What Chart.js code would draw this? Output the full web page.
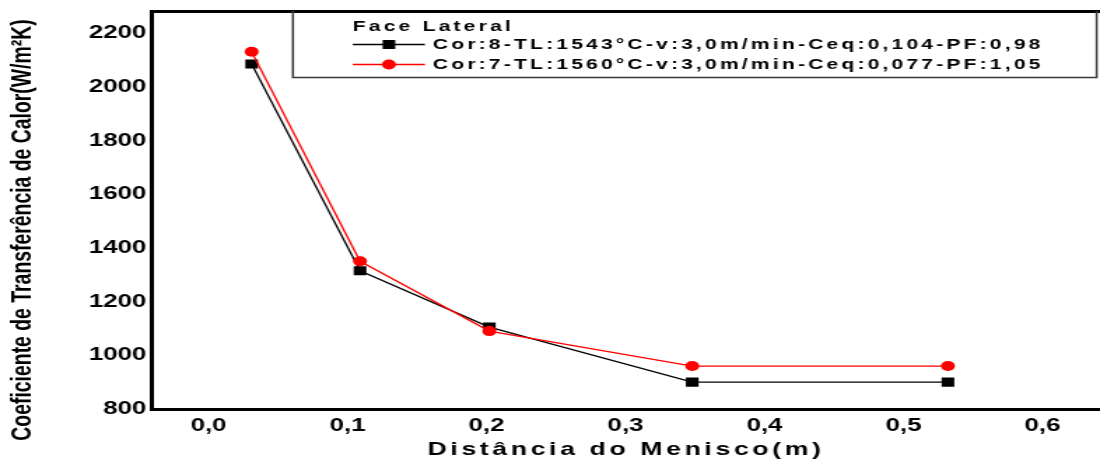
<!DOCTYPE html>
<html>
<head>
<meta charset="utf-8">
<script src="https://cdn.jsdelivr.net/npm/chart.js@4"></script>
<style>
  html, body { margin: 0; padding: 0; background: #fff; overflow: hidden; }
  #wrap { width: 1100px; height: 470px; overflow: hidden; }
  /* the plot is laid out on a narrower canvas and widened horizontally */
  #c { display: block; transform: scaleX(1.3995); transform-origin: 0 0; }
</style>
</head>
<body>
<div id="wrap"><canvas id="c" width="786" height="470" style="width:786px;height:470px"></canvas></div>
<script>
// Distance from the meniscus (m)
const distances = [0.031, 0.109, 0.202, 0.348, 0.532];
// Heat transfer coefficient, lateral face (W/m²K)
const coefCor8 = [2085, 1315, 1105, 900, 900];
const coefCor7 = [2130, 1350, 1090, 960, 960];

const seriesLabels = [
  'Cor:8-TL:1543°C-v:3,0m/min-Ceq:0,104-PF:0,98',
  'Cor:7-TL:1560°C-v:3,0m/min-Ceq:0,077-PF:1,05'
];
const legendTitle = 'Face Lateral';

const xTickValues = [0, 0.1, 0.2, 0.3, 0.4, 0.5, 0.6];
const xTickLabels = ['0,0', '0,1', '0,2', '0,3', '0,4', '0,5', '0,6'];
const yTickValues = [800, 1000, 1200, 1400, 1600, 1800, 2000, 2200];
const yTickLabels = ['800', '1000', '1200', '1400', '1600', '1800', '2000', '2200'];

const FONT = '"Liberation Sans", Arial, sans-serif';

const toPoints = (xs, ys) => xs.map((x, i) => ({ x, y: ys[i] }));

// Boxed legend with a line-and-marker sample per series
const boxedLegend = {
  id: 'boxedLegend',
  afterDraw(chart) {
    const ctx = chart.ctx;
    const top = chart.chartArea.top;
    const L = 209.3, R = 783.6, B = 77.5;
    ctx.save();
    ctx.strokeStyle = '#3a3a3a';
    ctx.lineWidth = 1.5;
    ctx.beginPath();
    ctx.moveTo(L, top);
    ctx.lineTo(L, B);
    ctx.lineTo(R, B);
    ctx.lineTo(R, top);
    ctx.stroke();

    ctx.fillStyle = '#000';
    ctx.textBaseline = 'middle';
    ctx.textAlign = 'left';
    ctx.font = 'bold 15px ' + FONT;
    ctx.letterSpacing = '2.3px';
    ctx.fillText(legendTitle, 252.1, 27);

    chart.data.datasets.forEach((ds, i) => {
      const y = 44.5 + i * 20;
      ctx.strokeStyle = ds.borderColor;
      ctx.lineWidth = ds.borderWidth;
      ctx.beginPath();
      ctx.moveTo(252.1, y);
      ctx.lineTo(303.6, y);
      ctx.stroke();
      ctx.fillStyle = ds.pointBackgroundColor;
      Chart.helpers.drawPoint(ctx, {
        pointStyle: ds.pointStyle, radius: ds.pointRadius, rotation: 0, borderWidth: 0
      }, 277.9, y);
      ctx.fillStyle = '#000';
      ctx.fillText(ds.label, 309.3, y + 0.5);
    });
    ctx.restore();
  }
};

// Axis-title tweaks: spaced x title, y title nudged downward
const titleTweaks = {
  id: 'titleTweaks',
  beforeDraw(chart) {
    const xs = chart.scales.x, ys = chart.scales.y;
    if (!xs._tweaked) {
      const origX = xs.drawTitle;
      xs.drawTitle = function () {
        const c = this.ctx;
        c.save();
        c.letterSpacing = '2.6px';
        origX.call(this);
        c.restore();
      };
      xs._tweaked = true;
    }
    if (!ys._tweaked) {
      const origY = ys.drawTitle;
      ys.drawTitle = function () {
        const c = this.ctx;
        c.save();
        c.translate(0, 20);
        origY.call(this);
        c.restore();
      };
      ys._tweaked = true;
    }
  }
};

const tickFont = { family: FONT, size: 18.5, weight: 'bold' };
const titleFont = { family: FONT, size: 19, weight: 'bold' };
const yTitleFont = { family: FONT, size: 19.4, weight: 'bold' };

const noOverhang = s => {
  s.paddingTop = 0; s.paddingBottom = 0; s.paddingLeft = 0; s.paddingRight = 0;
};

new Chart(document.getElementById('c'), {
  type: 'line',
  data: {
    datasets: [
      {
        label: seriesLabels[0],
        data: toPoints(distances, coefCor8),
        borderColor: '#000000',
        backgroundColor: '#000000',
        pointBackgroundColor: '#000000',
        pointBorderWidth: 0,
        borderWidth: 1.3,
        pointStyle: 'rect',
        pointRadius: 6.4,
        tension: 0,
        order: 1
      },
      {
        label: seriesLabels[1],
        data: toPoints(distances, coefCor7),
        borderColor: '#ff0000',
        backgroundColor: '#ff0000',
        pointBackgroundColor: '#ff0000',
        pointBorderWidth: 0,
        borderWidth: 1.3,
        pointStyle: 'circle',
        pointRadius: 5,
        tension: 0,
        order: 0
      }
    ]
  },
  options: {
    responsive: false,
    animation: false,
    devicePixelRatio: 1,
    layout: { padding: 0, autoPadding: false },
    plugins: {
      legend: { display: false },
      tooltip: { enabled: false }
    },
    scales: {
      x: {
        type: 'linear',
        position: 'bottom',
        min: -0.0407,
        max: 0.6414,
        grid: { display: false, drawTicks: false },
        border: { display: true, color: '#000', width: 3 },
        afterBuildTicks: s => { s.ticks = xTickValues.map(v => ({ value: v })); },
        ticks: {
          color: '#000',
          font: tickFont,
          padding: 6,
          maxRotation: 0,
          autoSkip: false,
          callback: (v, i) => xTickLabels[i]
        },
        title: {
          display: true,
          text: 'Distância do Menisco(m)',
          color: '#000',
          font: titleFont,
          padding: { top: 0, bottom: 9 }
        },
        afterFit: s => { s.height = 61; noOverhang(s); }
      },
      x2: {
        type: 'linear',
        axis: 'x',
        position: 'top',
        min: -0.0407,
        max: 0.6414,
        grid: { display: false, drawTicks: false },
        border: { display: true, color: '#000', width: 3 },
        ticks: { display: false },
        afterFit: s => { s.height = 11; noOverhang(s); }
      },
      y: {
        type: 'linear',
        position: 'left',
        min: 800,
        max: 2282,
        grid: { display: false, drawTicks: false },
        border: { display: true, color: '#000', width: 3 },
        afterBuildTicks: s => { s.ticks = yTickValues.map(v => ({ value: v })); },
        ticks: {
          color: '#000',
          font: tickFont,
          padding: 4,
          autoSkip: false,
          callback: (v, i) => yTickLabels[i]
        },
        title: {
          display: true,
          text: 'Coeficiente de Transferência de Calor(W/m²K)',
          color: '#000',
          font: yTitleFont,
          padding: { top: 5, bottom: 0 }
        },
        afterFit: s => { s.width = 108.6; noOverhang(s); }
      }
    }
  },
  plugins: [titleTweaks, boxedLegend]
});
</script>
</body>
</html>
